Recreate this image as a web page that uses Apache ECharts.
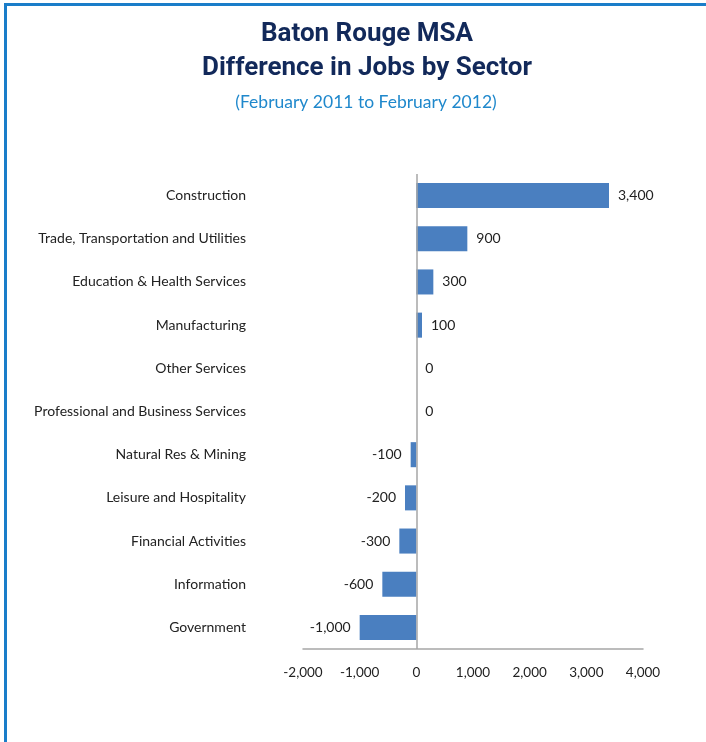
<!DOCTYPE html>
<html><head><meta charset="utf-8">
<script src="https://cdn.jsdelivr.net/npm/echarts@6/dist/echarts.min.js"></script>
<style>
html,body{margin:0;padding:0;background:#fff;}
#frame{position:absolute;left:4px;top:3px;width:702px;height:739px;border-left:3px solid #1a7dc9;border-top:3px solid #1a7dc9;box-sizing:border-box;}
#c{position:absolute;left:0;top:0;width:706px;height:742px;}
</style></head><body>
<div id="frame"></div>
<div id="c"></div>
<script>
const categories = ["Construction","Trade, Transportation and Utilities","Education & Health Services","Manufacturing","Other Services","Professional and Business Services","Natural Res & Mining","Leisure and Hospitality","Financial Activities","Information","Government"];
const values = [3400, 900, 300, 100, 0, 0, -100, -200, -300, -600, -1000];
const xTicks = {min: -2000, max: 4000, interval: 1000};
const titleLines = ["Baton Rouge MSA", "Difference in Jobs by Sector"];
const subtitle = "(February 2011 to February 2012)";

const fmt = v => (v < 0 ? "-" : "") + Math.abs(v).toLocaleString("en-US");
const chart = echarts.init(document.getElementById('c'));
chart.setOption({
  animation: false,
  graphic: [
    {type: 'text', x: 367, y: 34, style: {text: titleLines[0], textAlign: 'center', textVerticalAlign: 'middle',
      font: 'bold 26px Roboto', fill: '#12295a'}},
    {type: 'text', x: 367, y: 68, style: {text: titleLines[1], textAlign: 'center', textVerticalAlign: 'middle',
      font: 'bold 26px Roboto', fill: '#12295a'}},
    {type: 'text', x: 366, y: 102, style: {text: subtitle, textAlign: 'center', textVerticalAlign: 'middle',
      font: '17.5px Lato', fill: '#1f88cc'}}
  ],
  grid: {left: 303, right: 63, top: 174, bottom: 93},
  xAxis: {
    type: 'value', min: xTicks.min, max: xTicks.max, interval: xTicks.interval,
    splitLine: {show: false},
    axisLine: {show: true, onZero: false, lineStyle: {color: '#a6a6a6', width: 1.5}},
    axisTick: {show: false},
    axisLabel: {formatter: fmt, margin: 17, fontFamily: 'Lato', fontSize: 13.5, color: '#222'}
  },
  yAxis: {
    type: 'category', data: categories, inverse: true,
    axisLine: {show: false, onZero: false},
    axisTick: {show: false},
    axisLabel: {margin: 57, fontFamily: 'Lato', fontSize: 14, color: '#222'}
  },
  series: [{
    type: 'bar',
    barCategoryGap: '42%',
    itemStyle: {color: '#4a7fc0'},
    data: values.map(v => ({value: v, label: {position: v < 0 ? 'left' : 'right'}})),
    label: {show: true, distance: 9, formatter: p => fmt(p.value), fontFamily: 'Lato', fontSize: 14, color: '#222'},
    markLine: {
      silent: true, symbol: 'none', label: {show: false},
      lineStyle: {color: '#a6a6a6', type: 'solid', width: 1.5},
      data: [{xAxis: 0}]
    }
  }]
});
</script>
</body></html>
